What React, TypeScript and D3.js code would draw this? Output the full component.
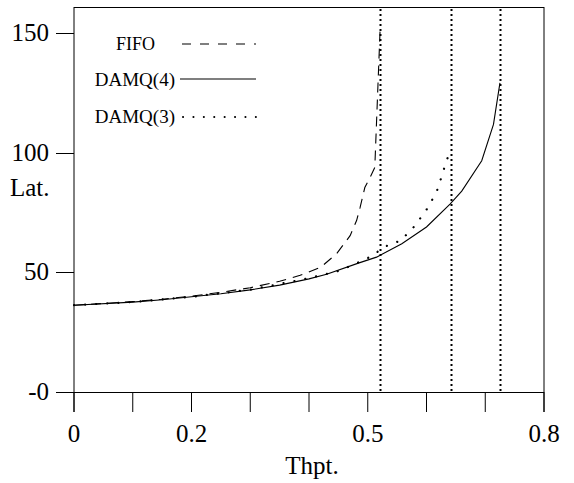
import * as d3 from 'd3';

// throughput (x) / latency (y) samples
const fifoX = [0, 0.05, 0.1, 0.15, 0.2, 0.25, 0.3, 0.35, 0.385, 0.42, 0.447, 0.47, 0.481, 0.487, 0.495, 0.504, 0.512, 0.521];
const fifoY = [36.3, 37, 37.8, 38.8, 40.1, 41.7, 43.6, 46.3, 48.8, 52.2, 57.8, 65.4, 71.7, 77.2, 85.5, 89.7, 93.9, 151.5];

const damq4X = [0, 0.1, 0.15, 0.2, 0.25, 0.3, 0.35, 0.4, 0.43, 0.484, 0.515, 0.558, 0.6, 0.64, 0.66, 0.694, 0.714, 0.725];
const damq4Y = [36.3, 37.6, 38.6, 39.8, 41.1, 42.7, 44.7, 47.3, 49.2, 53.9, 56.4, 62, 69, 78.6, 84, 96.7, 111.9, 129.3];

const damq3X = [0, 0.1, 0.2, 0.3, 0.4, 0.453, 0.5, 0.533, 0.556, 0.578, 0.599, 0.617, 0.627, 0.634, 0.642];
const damq3Y = [36.3, 37.6, 39.8, 42.8, 47.6, 50.8, 56, 61.2, 63.3, 68.9, 75.8, 83.5, 91.1, 96.7, 101.5];

// saturation throughputs (vertical dotted markers)
const saturation = [0.521, 0.642, 0.725];

const xTicks = [0, 0.1, 0.2, 0.3, 0.4, 0.5, 0.6, 0.7, 0.8];
const xLabels = ['0', '', '0.2', '', '', '0.5', '', '', '0.8'];
const yTicks = [0, 50, 100, 150];
const yLabels = ['-0', '50', '100', '150'];

const legendItems = ['FIFO', 'DAMQ(4)', 'DAMQ(3)'];

const W = 574;
const H = 483;
const FONT = '"Liberation Serif", "DejaVu Serif", serif';

export default function App() {
  const x = d3.scaleLinear().domain([0, 0.8]).range([74, 544]);
  const y = d3.scaleLinear().domain([0, 161]).range([392, 7]);

  const line = d3
    .line<[number, number]>()
    .x(d => x(d[0]))
    .y(d => y(d[1]));

  const zip = (xs: number[], ys: number[]) => xs.map((v, i) => [v, ys[i]] as [number, number]);

  const series = [
    { name: legendItems[0], pts: zip(fifoX, fifoY), dash: '10,7', width: 1.1, cap: 'butt' },
    { name: legendItems[1], pts: zip(damq4X, damq4Y), dash: undefined, width: 1.1, cap: 'butt' },
    { name: legendItems[2], pts: zip(damq3X, damq3Y), dash: '0.1,11', width: 2.2, cap: 'round' },
  ];

  const x0 = x(0);
  const x1 = x(0.8);
  const y0 = y(0);
  const yTop = y(161);

  return (
    <svg width={W} height={H} style={{ position: 'absolute', left: 0, top: 0, background: '#fff' }} fontFamily={FONT}>
      {/* frame */}
      <line x1={x0} x2={x0} y1={yTop} y2={y0 + 20} stroke="#000" strokeWidth={1} />
      <line x1={x1} x2={x1} y1={yTop} y2={y0 + 20} stroke="#000" strokeWidth={1} />
      <line x1={x0 - 18} x2={x1} y1={y0 + 0.5} y2={y0 + 0.5} stroke="#000" strokeWidth={1} />
      <line x1={x0} x2={x1} y1={yTop + 0.5} y2={yTop + 0.5} stroke="#000" strokeWidth={1} />

      {/* y ticks */}
      {yTicks.map((t, i) => (
        <g key={'y' + t}>
          <line x1={x0 - 18} x2={x0} y1={Math.round(y(t)) + 0.5} y2={Math.round(y(t)) + 0.5} stroke="#000" />
          <text x={49} y={y(t) + 8} textAnchor="end" fontSize={25}>
            {yLabels[i]}
          </text>
        </g>
      ))}

      {/* x ticks */}
      {xTicks.map((t, i) => (
        <g key={'x' + t}>
          <line x1={x(t)} x2={x(t)} y1={y0} y2={y0 + 20} stroke="#000" />
          {xLabels[i] && (
            <text x={x(t)} y={y0 + 50} textAnchor="middle" fontSize={25}>
              {xLabels[i]}
            </text>
          )}
        </g>
      ))}

      <text x={10} y={196} fontSize={25}>Lat.</text>
      <text x={312} y={474} textAnchor="middle" fontSize={25}>Thpt.</text>

      {/* saturation markers */}
      {saturation.map(s => (
        <line key={s} x1={Math.round(x(s)) + 0.5} x2={Math.round(x(s)) + 0.5} y1={yTop + 2} y2={y0} stroke="#000" strokeWidth={2} strokeDasharray="2,3" />
      ))}

      {/* curves */}
      {series.map(s => (
        <path
          key={s.name}
          d={line(s.pts) || ''}
          fill="none"
          stroke="#000"
          strokeWidth={s.width}
          strokeDasharray={s.dash}
          strokeLinecap={s.cap as any}
        />
      ))}

      {/* legend */}
      <text x={155} y={50} textAnchor="end" fontSize={18}>FIFO</text>
      <line x1={182} x2={256} y1={44} y2={44} stroke="#000" strokeWidth={1.2} strokeDasharray="9,9" />
      <text x={175} y={86} textAnchor="end" fontSize={19}>DAMQ(4)</text>
      <line x1={180} x2={256} y1={79} y2={79} stroke="#000" strokeWidth={1.2} />
      <text x={175} y={123} textAnchor="end" fontSize={19}>DAMQ(3)</text>
      <line x1={183} x2={256} y1={117} y2={117} stroke="#000" strokeWidth={2} strokeDasharray="0.1,10.3" strokeLinecap="round" />
    </svg>
  );
}
